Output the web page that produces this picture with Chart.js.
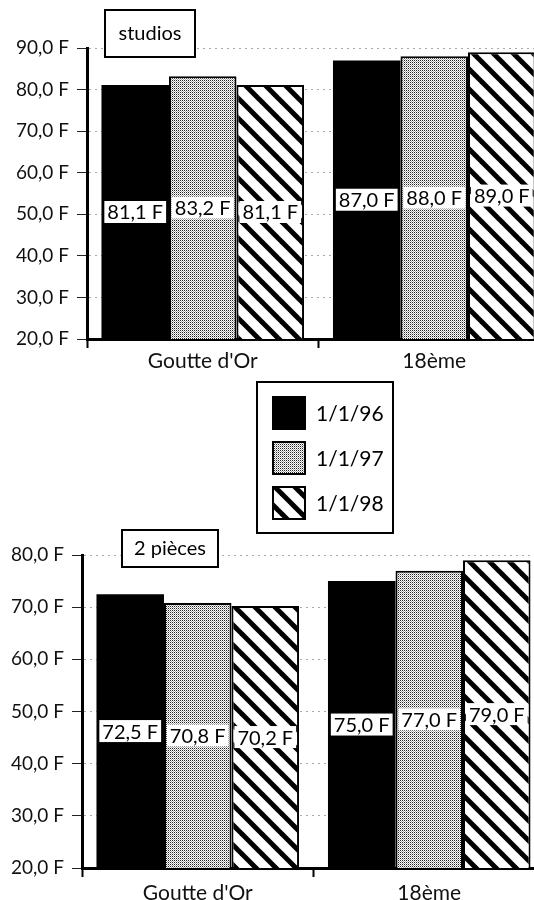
<!DOCTYPE html>
<html>
<head>
<meta charset="utf-8">
<script src="https://cdn.jsdelivr.net/npm/chart.js@4"></script>
<style>
  body { margin:0; background:#fff; overflow:hidden; width:534px; height:900px; position:relative; }
  canvas { position:absolute; left:0; }
  #studios { top:0; }
  #pieces { top:372px; }
</style>
</head>
<body>
<canvas id="studios" width="550" height="380"></canvas>
<canvas id="pieces" width="545" height="540"></canvas>
<script>
const categories = ["Goutte d'Or", "18ème"];
const dates = ["1/1/96", "1/1/97", "1/1/98"];

// loyers au m2, studios
const studios96 = [81.1, 87.0];
const studios97 = [83.2, 88.0];
const studios98 = [81.1, 89.0];

// loyers au m2, 2 pieces
const pieces96 = [72.5, 75.0];
const pieces97 = [70.8, 77.0];
const pieces98 = [70.2, 79.0];

Chart.defaults.font.family = 'Lato';
Chart.defaults.color = '#111';

function fmt(v) {
  return v.toFixed(1).replace('.', ',') + ' F';
}

function dots() {
  const c = document.createElement('canvas');
  c.width = 2; c.height = 2;
  const g = c.getContext('2d');
  g.fillStyle = '#fff'; g.fillRect(0, 0, 2, 2);
  g.fillStyle = '#222'; g.fillRect(0, 0, 1, 1);
  g.fillStyle = '#aaa'; g.fillRect(1, 1, 1, 1);
  return g.createPattern(c, 'repeat');
}

function hatch() {
  const s = 20;
  const c = document.createElement('canvas');
  c.width = s; c.height = s;
  const g = c.getContext('2d');
  g.fillStyle = '#fff'; g.fillRect(0, 0, s, s);
  g.strokeStyle = '#000'; g.lineWidth = 5;
  for (const o of [-s, 0, s]) {
    g.beginPath(); g.moveTo(o - 3, -3); g.lineTo(o + s + 3, s + 3); g.stroke();
  }
  return g.createPattern(c, 'repeat');
}

const fills = ['#000', dots(), hatch()];

// white label boxes in the middle of each bar
const barLabels = {
  id: 'barLabels',
  afterDatasetsDraw(chart) {
    const ctx = chart.ctx;
    const bottom = chart.chartArea.bottom;
    ctx.save();
    ctx.font = '20px Lato';
    ctx.textAlign = 'center';
    ctx.textBaseline = 'middle';
    chart.data.datasets.forEach((ds, i) => {
      chart.getDatasetMeta(i).data.forEach((bar, j) => {
        const t = fmt(ds.data[j]);
        const w = ctx.measureText(t).width + 6;
        const y = (bar.y + Math.min(bar.base, bottom)) / 2;
        ctx.fillStyle = '#fff';
        ctx.fillRect(bar.x - w / 2, y - 11, w, 22);
        ctx.fillStyle = '#000';
        ctx.fillText(t, bar.x, y + 1);
      });
    });
    ctx.restore();
  }
};

// boxed title, and the legend box drawn between the two charts
const boxes = {
  id: 'boxes',
  afterDraw(chart, args, opts) {
    const ctx = chart.ctx;
    ctx.save();
    const b = opts.title;
    ctx.fillStyle = '#fff';
    ctx.fillRect(b.x, b.y, b.w, b.h);
    ctx.strokeStyle = '#000';
    ctx.lineWidth = 2;
    ctx.strokeRect(b.x, b.y, b.w, b.h);
    ctx.fillStyle = '#000';
    ctx.font = '20px Lato';
    ctx.textAlign = 'center';
    ctx.textBaseline = 'middle';
    ctx.fillText(b.text, b.x + b.w / 2, b.y + b.h / 2);

    if (opts.legend) {
      const L = opts.legend;
      ctx.strokeRect(L.x, L.y, 136, 151);
      ctx.font = '21px Lato';
      ctx.textAlign = 'left';
      chart.data.datasets.forEach((ds, i) => {
        const sy = L.y + 15 + i * 45;
        ctx.fillStyle = ds.backgroundColor;
        ctx.fillRect(L.x + 16, sy, 32, 32);
        ctx.strokeRect(L.x + 16, sy, 32, 32);
        ctx.fillStyle = '#000';
        ctx.fillText(ds.label, L.x + 59, sy + 17);
      });
    }
    ctx.restore();
  }
};

function makeChart(id, s96, s97, s98, yMax, axisW, padTop, xH, xPad, boxOpts) {
  const series = [s96, s97, s98];
  return new Chart(document.getElementById(id), {
    type: 'bar',
    data: {
      labels: categories,
      datasets: series.map((d, i) => ({
        label: dates[i],
        data: d,
        backgroundColor: fills[i],
        borderColor: '#000',
        borderWidth: i === 0 ? 0 : 2,
        categoryPercentage: 0.875,
        barPercentage: 1.0
      }))
    },
    options: {
      responsive: false,
      animation: false,
      layout: { padding: { top: padTop, left: 0, right: 0, bottom: 0 } },
      plugins: {
        legend: { display: false },
        tooltip: { enabled: false },
        boxes: boxOpts
      },
      scales: {
        x: {
          grid: { drawOnChartArea: false, tickLength: 9, tickColor: '#000', tickWidth: 2 },
          border: { color: '#000', width: 3 },
          ticks: { font: { size: 21 }, color: '#111', padding: xPad },
          afterFit(scale) { scale.height = xH; }
        },
        y: {
          min: 20,
          max: yMax,
          ticks: { stepSize: 10, font: { size: 19 }, color: '#111', padding: 8, callback: v => fmt(v) },
          grid: { color: '#aaa', lineWidth: 1, tickLength: 10, tickColor: '#222', tickWidth: 1 },
          border: { color: '#000', width: 3, dash: [2, 4] },
          afterFit(scale) { scale.width = axisW; }
        }
      }
    },
    plugins: [barLabels, boxes]
  });
}

makeChart('studios', studios96, studios97, studios98, 90, 87, 48, 41, 1,
  { title: { x: 105, y: 10, w: 90, h: 47, text: 'studios' }, legend: null });

makeChart('pieces', pieces96, pieces97, pieces98, 80, 82, 183, 44, 4,
  { title: { x: 122, y: 158, w: 96, h: 37, text: '2 pièces' }, legend: { x: 257, y: 10 } });
</script>
</body>
</html>
